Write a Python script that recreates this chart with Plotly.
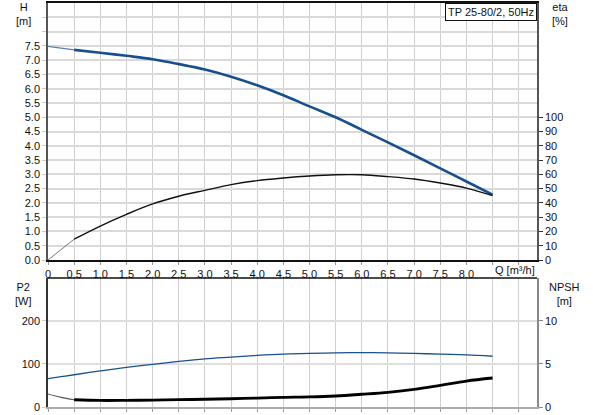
import plotly.graph_objects as go

# pump curves, Q in m3/h
q = [0, 0.25, 0.5, 1.0, 1.5, 2.0, 2.5, 3.0, 3.5, 4.0, 4.5, 5.0, 5.5, 6.0, 6.5, 7.0, 7.5, 8.0, 8.5]
head_m = [7.48, 7.42, 7.36, 7.26, 7.15, 7.03, 6.86, 6.67, 6.42, 6.12, 5.77, 5.38, 5.0, 4.56, 4.12, 3.67, 3.21, 2.75, 2.29]
eta_pct = [0, 7.3, 14.6, 23.8, 32.0, 39.3, 44.7, 48.8, 52.8, 55.6, 57.4, 58.8, 59.7, 59.7, 58.4, 56.7, 53.9, 50.4, 45.1]
p2_w = [66, 70.5, 75, 84, 92, 99, 106, 112, 116, 120, 123, 124.5, 126, 126.5, 126, 124.5, 123, 121, 118]
npsh_m = [1.52, 1.12, 0.84, 0.76, 0.77, 0.8, 0.85, 0.9, 0.96, 1.04, 1.12, 1.17, 1.28, 1.48, 1.71, 2.05, 2.52, 3.02, 3.37]

x_ticks = [0, 0.5, 1.0, 1.5, 2.0, 2.5, 3.0, 3.5, 4.0, 4.5, 5.0, 5.5, 6.0, 6.5, 7.0, 7.5, 8.0, 8.5, 9.0]
x_labels = ['0', '0.5', '1.0', '1.5', '2.0', '2.5', '3.0', '3.5', '4.0', '4.5', '5.0', '5.5', '6.0',
            '6.5', '7.0', '7.5', '8.0', '', '']
h_ticks = [0, 0.5, 1, 1.5, 2, 2.5, 3, 3.5, 4, 4.5, 5, 5.5, 6, 6.5, 7, 7.5, 8, 8.5]
h_labels = ['%.1f' % v for v in h_ticks[:16]] + ['', '']
eta_ticks = [0, 10, 20, 30, 40, 50, 60, 70, 80, 90, 100]
p2_ticks = [0, 100, 200]
npsh_ticks = [0, 5, 10]

BLUE = '#17508d'
FONT = dict(family='Liberation Sans, Arial', size=11, color='#111')

fig = go.Figure()

# thin start segments (0 .. 0.5) and thick rest
fig.add_trace(go.Scatter(x=q[:3], y=head_m[:3], mode='lines', line=dict(color='#5d7fa8', width=1.4),
                         xaxis='x', yaxis='y'))
fig.add_trace(go.Scatter(x=q[2:], y=head_m[2:], mode='lines', line=dict(color=BLUE, width=2.6, shape='spline'),
                         xaxis='x', yaxis='y'))
fig.add_trace(go.Scatter(x=q[:3], y=eta_pct[:3], mode='lines', line=dict(color='#777', width=1),
                         xaxis='x', yaxis='y2'))
fig.add_trace(go.Scatter(x=q[2:], y=eta_pct[2:], mode='lines', line=dict(color='#111', width=1.4, shape='spline'),
                         xaxis='x', yaxis='y2'))

fig.add_trace(go.Scatter(x=q, y=p2_w, mode='lines', line=dict(color=BLUE, width=1.3, shape='spline'),
                         xaxis='x2', yaxis='y3'))
fig.add_trace(go.Scatter(x=q[:3], y=npsh_m[:3], mode='lines', line=dict(color='#555', width=1.1, shape='spline'),
                         xaxis='x2', yaxis='y4'))
fig.add_trace(go.Scatter(x=q[2:], y=npsh_m[2:], mode='lines', line=dict(color='#000', width=2.8, shape='spline'),
                         xaxis='x2', yaxis='y4'))

top_dom = [0.3638, 1]
bot_dom = [0, 0.3195]

xcommon = dict(range=[0, 9.35], tickvals=x_ticks, showgrid=True, gridcolor='#cfcfcf', gridwidth=1,
               ticks='outside', ticklen=3, tickcolor='#999', zeroline=False, tickfont=FONT)

fig.update_layout(
    width=593, height=415,
    margin=dict(l=48, r=56, t=1, b=8),
    paper_bgcolor='white', plot_bgcolor='white',
    showlegend=False,
    font=FONT,
    xaxis=dict(xcommon, domain=[0, 1], anchor='y', ticktext=x_labels,
               showline=True, linecolor='#111', linewidth=2, mirror=True),
    yaxis=dict(domain=top_dom, range=[0, 9], tickvals=h_ticks, ticktext=h_labels,
               showgrid=True, gridcolor='#d9d9d9', gridwidth=1.5, zeroline=False,
               ticks='outside', ticklen=4, tickcolor='#ccc', tickfont=FONT,
               showline=True, linecolor='#555', linewidth=1.5),
    yaxis2=dict(overlaying='y', side='right', range=[0, 180], tickvals=eta_ticks,
                showgrid=False, zeroline=False, ticks='outside', ticklen=4, tickcolor='#333',
                tickfont=FONT, showline=True, linecolor='#555', linewidth=1.5, anchor='x'),
    xaxis2=dict(xcommon, domain=[0, 1], anchor='y3', showticklabels=False,
                showline=True, linecolor='#aaa', linewidth=2),
    yaxis3=dict(domain=bot_dom, range=[0, 300], tickvals=p2_ticks, anchor='x2',
                showgrid=True, gridcolor='#dedede', gridwidth=2, zeroline=False,
                ticks='outside', ticklen=4, tickcolor='#ccc', tickfont=FONT,
                showline=True, linecolor='#333', linewidth=1.5),
    yaxis4=dict(overlaying='y3', side='right', range=[0, 15], tickvals=npsh_ticks, anchor='x2',
                showgrid=False, zeroline=False, ticks='outside', ticklen=4, tickcolor='#888',
                tickfont=FONT, showline=True, linecolor='#888', linewidth=1.5),
)

# top frame line of the lower panel
fig.add_shape(type='line', xref='paper', yref='paper', x0=0, x1=1, y0=bot_dom[1], y1=bot_dom[1],
              line=dict(color='#111', width=1.5))

# axis captions
fig.add_annotation(text='H<br>[m]', xref='paper', yref='paper', x=-0.051, y=1, yshift=4,
                   xanchor='center', yanchor='top', showarrow=False, font=FONT)
fig.add_annotation(text='eta<br>[%]', xref='paper', yref='paper', x=1.047, y=1, yshift=4,
                   xanchor='center', yanchor='top', showarrow=False, font=FONT)
fig.add_annotation(text='P2<br>[W]', xref='paper', yref='paper', x=-0.051, y=0.318,
                   xanchor='center', yanchor='top', showarrow=False, font=FONT)
fig.add_annotation(text='NPSH<br>[m]', xref='paper', yref='paper', x=1.057, y=0.318,
                   xanchor='center', yanchor='top', showarrow=False, font=FONT)
fig.add_annotation(text='Q [m³/h]', xref='x', yref='paper', x=8.92, y=0.339,
                   xanchor='center', yanchor='middle', showarrow=False, font=FONT)
fig.add_annotation(text='TP 25-80/2, 50Hz', xref='paper', yref='paper', x=1, y=1,
                   xanchor='right', yanchor='top', showarrow=False, font=FONT,
                   bgcolor='white', bordercolor='#111', borderwidth=1, borderpad=2)

# page body has a default 8px margin, drop it so the chart sits at the window corner
fig.write_html("out.html", config={'displayModeBar': False},
               post_script="document.body.style.margin='0';document.body.style.overflow='hidden';")
